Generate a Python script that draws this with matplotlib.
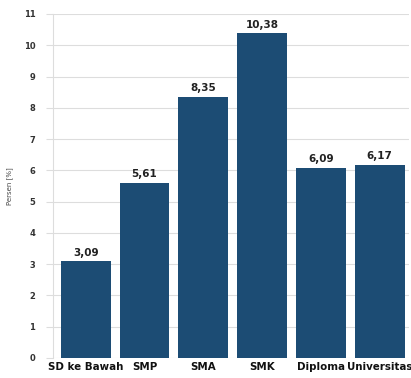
import matplotlib.pyplot as plt
import numpy as np

categories = ['SD ke Bawah', 'SMP', 'SMA', 'SMK', 'Diploma', 'Universitas']
values = [3.09, 5.61, 8.35, 10.38, 6.09, 6.17]
value_labels = ['3,09', '5,61', '8,35', '10,38', '6,09', '6,17']
yticks = list(range(0, 12))

fig = plt.figure(figsize=(4.11, 3.78), dpi=100)
ax = fig.add_axes([0.13, 0.053, 0.865, 0.91])
x = np.arange(len(categories))
bars = ax.bar(x, values, width=0.85, color='#1c4c74', zorder=3)
for xi, v, lab in zip(x, values, value_labels):
    ax.text(xi, v + 0.12, lab, ha='center', va='bottom', fontsize=7.5, fontweight='heavy', color='#222222')

ax.set_xlim(-0.55, 5.5)
ax.set_ylim(0, 11)
ax.set_yticks(yticks)
ax.set_yticklabels([str(t) for t in yticks], fontsize=6, fontweight='bold', color='#333333')
ax.set_xticks(x)
ax.set_xticklabels(categories, fontsize=7.4, fontweight='bold', color='#111111')
ax.tick_params(axis='y', length=5, color='#dddddd', pad=8)
ax.tick_params(axis='x', length=0, pad=3)
ax.grid(axis='y', color='#dddddd', linewidth=0.8, zorder=0)
for s in ['top', 'right', 'bottom']:
    ax.spines[s].set_visible(False)
ax.spines['left'].set_color('#dddddd')
ax.set_ylabel('Persen [%]', fontsize=5, color='#444444', labelpad=8)

fig.savefig('out.png', dpi=100)
